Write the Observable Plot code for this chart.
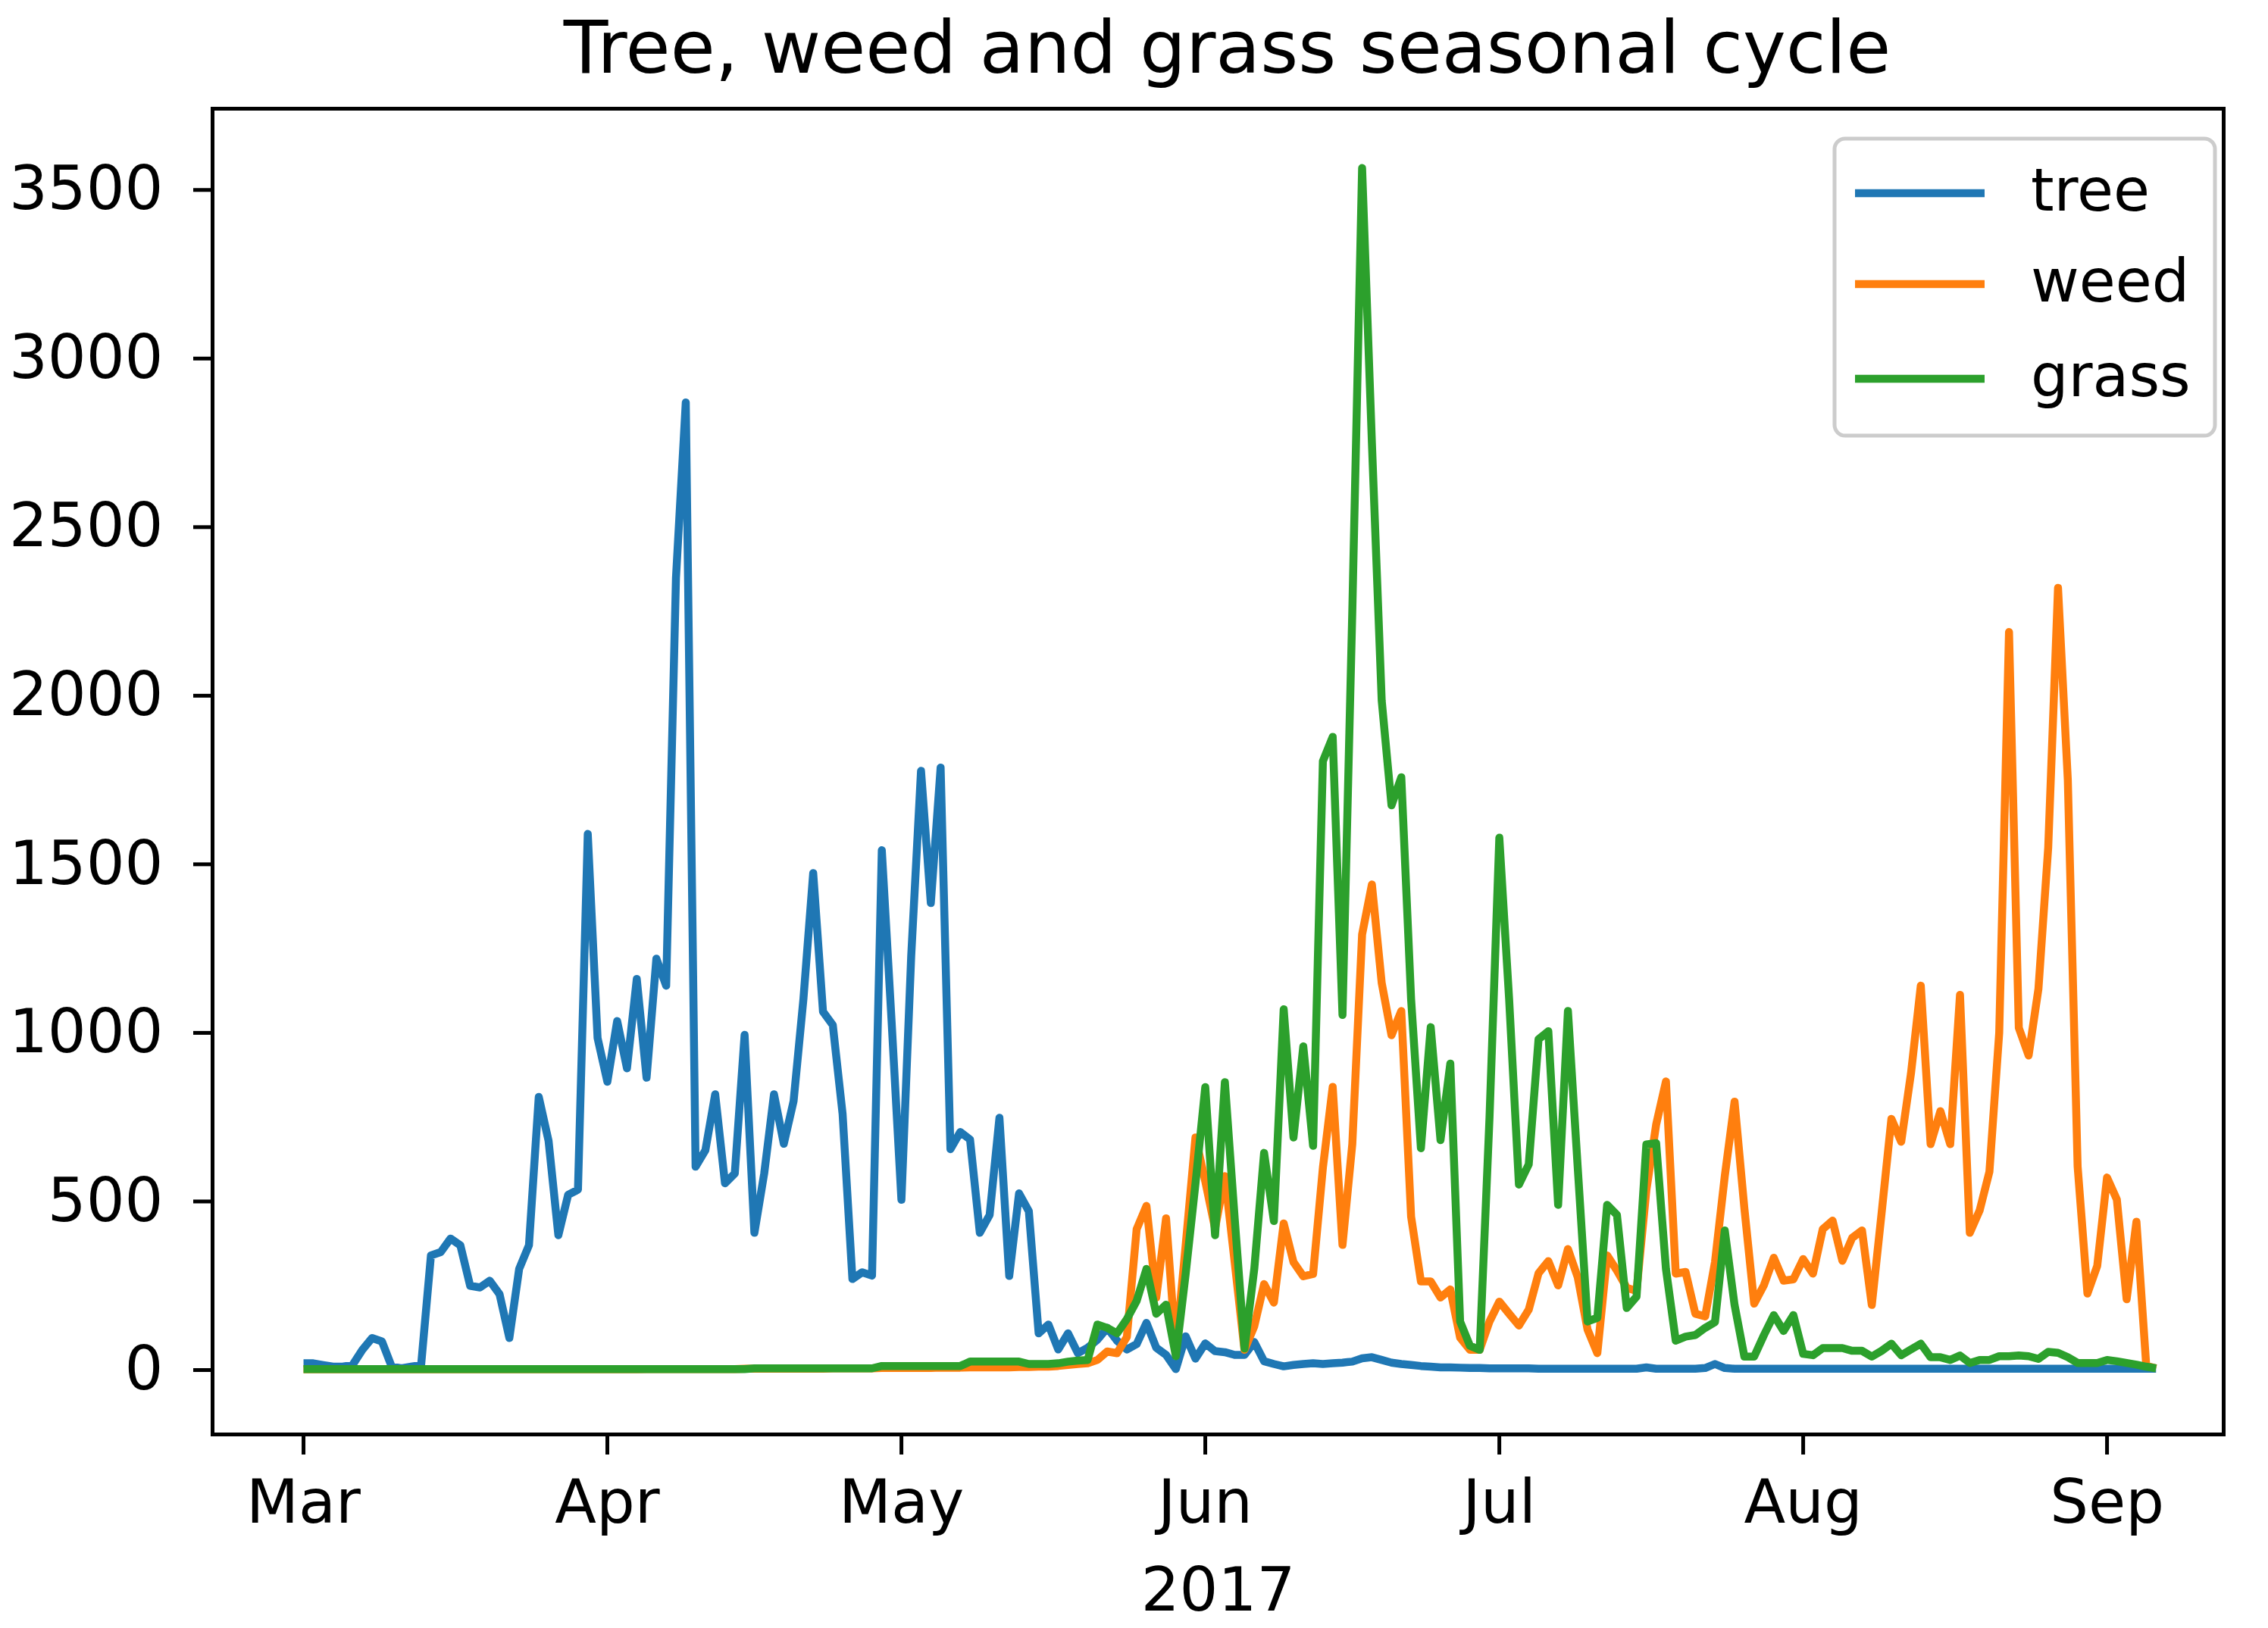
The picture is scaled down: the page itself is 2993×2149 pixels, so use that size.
<!DOCTYPE html>
<html>
<head>
<meta charset="utf-8">
<script src="https://cdn.jsdelivr.net/npm/d3@7"></script>
<script src="https://cdn.jsdelivr.net/npm/@observablehq/plot@0.6"></script>
<style>
  body { margin: 0; background: #ffffff; }
  #wrap { position: relative; width: 2993px; height: 2149px; background: #ffffff; }
  #legend { position: absolute; left: 0; top: 0; pointer-events: none; }
</style>
</head>
<body>
<div id="wrap"></div>
<script>
// ---- data (daily pollen counts, starting 2017-03-01) ----
const startDate = "2017-03-01";

const tree = [
  20,20,15,10,10,15,60,95,85,10,
  5,10,15,340,350,390,370,250,245,265,
  225,95,300,370,810,680,400,520,535,1590,
  985,855,1035,895,1160,867,1220,1140,2350,2870,
  603,652,818,554,583,994,407,583,818,671,
  798,1100,1474,1063,1023,759,270,290,280,1542,
  1033,505,1229,1777,1385,1787,655,706,684,407,
  460,748,279,524,471,109,135,61,109,50,
  66,90,125,87,61,77,140,66,45,3,
  100,34,79,56,53,45,45,83,26,18,
  11,15,18,20,18,20,22,25,35,38,
  30,22,18,15,12,10,8,8,7,6,
  6,5,5,5,5,5,4,4,4,4,
  4,4,4,4,4,4,4,8,4,4,
  4,4,4,6,18,6,4,4,4,4,
  4,4,4,4,4,4,4,4,4,4,
  4,4,4,4,4,4,4,4,4,4,
  4,4,4,4,4,4,4,4,4,4,
  4,4,4,4,4,4,4,4,4,4
];

const weed = [
  2,2,2,2,2,2,2,2,2,2,
  2,2,2,2,2,2,2,2,2,2,
  2,2,2,2,2,2,2,2,2,2,
  2,2,2,2,2,3,3,3,3,3,
  3,3,3,3,3,4,4,4,4,4,
  4,4,4,4,5,5,5,5,5,6,
  6,6,6,6,6,7,7,7,8,8,
  8,8,8,9,9,10,10,12,15,18,
  20,30,55,50,98,418,487,215,450,60,
  370,690,560,420,575,320,60,130,255,200,
  435,320,278,285,600,840,371,670,1292,1440,
  1148,993,1065,455,263,263,215,239,96,60,
  60,144,203,167,132,179,287,323,251,359,
  275,120,50,340,295,244,235,533,728,856,
  286,291,167,159,320,575,796,480,197,252,
  333,265,269,329,286,418,443,324,392,414,
  193,465,745,677,880,1140,670,768,670,1113,
  407,473,588,1000,2189,1015,933,1130,1550,2320,
  1750,604,227,309,571,506,210,440,13,5
];

const grass = [
  3,3,3,3,3,3,3,3,3,3,
  3,3,3,3,3,3,3,3,3,3,
  3,3,3,3,3,3,3,3,3,3,
  3,3,3,3,3,3,3,3,3,3,
  3,3,3,3,3,3,5,5,5,5,
  5,5,5,5,5,5,5,5,5,12,
  12,12,12,12,12,12,12,12,25,25,
  25,25,25,25,18,18,18,20,25,28,
  30,135,125,109,151,205,300,167,194,41,
  285,553,839,400,854,450,64,300,644,442,
  1070,690,960,665,1806,1878,1053,2250,3565,2750,
  1986,1675,1758,1100,658,1017,682,909,144,72,
  60,750,1579,1100,550,610,981,1005,490,1065,
  600,144,155,490,460,184,218,669,673,300,
  87,99,104,125,142,414,193,40,40,104,
  163,116,163,48,44,65,65,65,57,57,
  40,57,78,44,61,78,38,38,30,43,
  21,30,30,41,41,43,41,33,54,51,
  38,21,21,21,30,26,21,16,10,5
];

const seriesNames = ["tree", "weed", "grass"];
const seriesColors = ["#1f77b4", "#ff7f0e", "#2ca02c"];
const monthTicks = ["2017-03-01", "2017-04-01", "2017-05-01", "2017-06-01", "2017-07-01", "2017-08-01", "2017-09-01"];
const yTicks = [0, 500, 1000, 1500, 2000, 2500, 3000, 3500];
const titleText = "Tree, weed and grass seasonal cycle";
const xLabelText = "2017";

// ---- build table ----
const t0 = new Date(startDate + "T00:00:00Z");
const dates = tree.map((_, i) => d3.utcDay.offset(t0, i));
const rows = [];
[tree, weed, grass].forEach((vals, s) => {
  vals.forEach((v, i) => rows.push({ date: dates[i], value: v, series: seriesNames[s] }));
});

const DAY = 864e5;
const xDomain = [new Date(+t0 - 9.28 * DAY), new Date(+t0 + 195.9 * DAY)];

const chart = Plot.plot({
  width: 2993,
  height: 2149,
  marginLeft: 280,
  marginRight: 59,
  marginTop: 143,
  marginBottom: 256,
  style: { fontFamily: "DejaVu Sans", fontSize: "80px", background: "#ffffff", color: "#000000", overflow: "visible" },
  x: { type: "utc", domain: xDomain },
  y: { domain: [-191, 3741] },
  color: { domain: seriesNames, range: seriesColors },
  marks: [
    Plot.line(rows, { x: "date", y: "value", z: "series", stroke: "series", strokeWidth: 10.5, strokeLinejoin: "round", strokeLinecap: "butt" }),
    Plot.frame({ stroke: "#000000", strokeWidth: 5 }),
    Plot.axisX({
      ticks: monthTicks.map(s => new Date(s + "T00:00:00Z")),
      tickFormat: d3.utcFormat("%b"),
      tickSize: 27, tickPadding: 33, strokeWidth: 5, label: null, fontSize: 80
    }),
    Plot.axisY({
      ticks: yTicks, tickFormat: d3.format("d"),
      tickSize: 25, tickPadding: 40, strokeWidth: 5, label: null, fontSize: 80
    }),
    Plot.text([titleText], { text: d => d, frameAnchor: "top", lineAnchor: "bottom", dy: -48, dx: 12, fontSize: 96, fill: "#000000" }),
    Plot.text([xLabelText], { text: d => d, frameAnchor: "bottom", lineAnchor: "bottom", dy: 232, fontSize: 80, fill: "#000000" })
  ]
});

const wrap = document.getElementById("wrap");
wrap.appendChild(chart);

// ---- legend overlay ----
const legendBox = { x: 2421, y: 183, w: 502, h: 392 };
const lg = d3.create("svg")
  .attr("id", "legend")
  .attr("width", 2993)
  .attr("height", 2149)
  .style("font-family", "DejaVu Sans");
lg.append("rect")
  .attr("x", legendBox.x).attr("y", legendBox.y)
  .attr("width", legendBox.w).attr("height", legendBox.h)
  .attr("rx", 14).attr("ry", 14)
  .attr("fill", "rgba(255,255,255,0.8)")
  .attr("stroke", "#cccccc").attr("stroke-width", 5);
const rowY = [255, 375, 500];
seriesNames.forEach((name, i) => {
  lg.append("line")
    .attr("x1", 2448).attr("x2", 2619)
    .attr("y1", rowY[i]).attr("y2", rowY[i])
    .attr("stroke", seriesColors[i]).attr("stroke-width", 10.5);
  lg.append("text")
    .attr("x", 2680).attr("y", rowY[i] + 23)
    .attr("font-size", 78).attr("fill", "#000000")
    .text(name);
});
wrap.appendChild(lg.node());
</script>
</body>
</html>
